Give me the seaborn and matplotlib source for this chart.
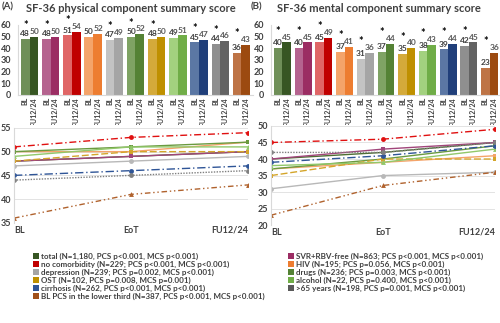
import matplotlib
matplotlib.use("Agg")
import matplotlib.pyplot as plt
from matplotlib.lines import Line2D
from matplotlib.patches import Rectangle
import seaborn as sns
import pandas as pd
import numpy as np

sns.set_style("white")
plt.rcParams['font.family'] = ['Lato', 'DejaVu Sans']

groups = ["total", "SVR+RBV-free", "no comorbidity", "HIV", "depression", "drugs",
          "OST", "alcohol", "cirrhosis", ">65 years", "BL PCS in the lower third"]
pcs_bl = [48, 48, 51, 50, 47, 50, 48, 49, 45, 44, 36]
pcs_fu = [50, 50, 54, 52, 49, 52, 50, 51, 47, 46, 43]
mcs_bl = [40, 40, 45, 37, 31, 37, 35, 38, 39, 42, 23]
mcs_fu = [45, 45, 49, 41, 36, 44, 40, 43, 44, 45, 36]
pcs_sig = [1, 1, 1, 0, 1, 1, 1, 0, 1, 1, 1]
mcs_sig = [1, 1, 1, 1, 1, 1, 1, 1, 1, 1, 1]

timepoints = ["BL", "EoT", "FU12/24"]
pcs_lines = {
    "total": [48, 49, 50],
    "SVR+RBV-free": [48, 49, 50],
    "no comorbidity": [51, 53, 54],
    "HIV": [50, 50, 52],
    "depression": [47, 48, 49],
    "drugs": [50, 51, 52],
    "OST": [48, 50, 50],
    "alcohol": [49, 51, 51],
    "cirrhosis": [45, 46, 47],
    ">65 years": [44, 45, 46],
    "BL PCS in the lower third": [36, 41, 43],
}
mcs_lines = {
    "total": [40, 42, 45],
    "SVR+RBV-free": [40, 43, 45],
    "no comorbidity": [45, 46, 49],
    "HIV": [37, 39, 41],
    "depression": [31, 35, 36],
    "drugs": [37, 40, 44],
    "OST": [35, 40, 40],
    "alcohol": [38, 39, 43],
    "cirrhosis": [39, 41, 44],
    ">65 years": [42, 42, 45],
    "BL PCS in the lower third": [23, 32, 36],
}

legend_left = [
    ("total", "total (N=1,180, PCS p<0.001, MCS p<0.001)"),
    ("no comorbidity", "no comorbidity (N=229; PCS p<0.001, MCS p<0.001)"),
    ("depression", "depression (N=239; PCS p=0.002, MCS p<0.001)"),
    ("OST", "OST (N=102, PCS p=0.008, MCS p=0.001)"),
    ("cirrhosis", "cirrhosis (N=262, PCS p<0.001, MCS p<0.001)"),
    ("BL PCS in the lower third", "BL PCS in the lower third (N=387, PCS p<0.001, MCS p<0.001)"),
]
legend_right = [
    ("SVR+RBV-free", "SVR+RBV-free (N=863; PCS p<0.001, MCS p<0.001)"),
    ("HIV", "HIV (N=195; PCS p=0.056, MCS p<0.001)"),
    ("drugs", "drugs (N=236; PCS p=0.003, MCS p<0.001)"),
    ("alcohol", "alcohol (N=22, PCS p=0.400, MCS p<0.001)"),
    (">65 years", ">65 years (N=198, PCS p=0.001, MCS p<0.001)"),
]

# styles
bar_light = ["#6f8f58", "#b5638f", "#e06666", "#f4a46a", "#c3c3c3", "#7fa364",
             "#d4aa3a", "#a3d17f", "#5b77a4", "#8f8f8f", "#be7446"]
bar_dark = ["#375623", "#9b2d63", "#c00000", "#ed7d31", "#a5a5a5", "#548235",
            "#bf9000", "#70ad47", "#203f7a", "#636363", "#9c4a10"]
line_style = {
    "total": ("#4e6e32", "-", "s"),
    "SVR+RBV-free": ("#a0457a", "-", "s"),
    "no comorbidity": ("#e01010", (0, (5, 2, 1, 2)), "o"),
    "HIV": ("#f4a46a", "-", "s"),
    "depression": ("#b8b8b8", "-", "o"),
    "drugs": ("#6a9a40", "-", "s"),
    "OST": ("#d4a52a", (0, (5, 2)), "s"),
    "alcohol": ("#92c86a", "-", "^"),
    "cirrhosis": ("#2f5597", (0, (6, 2, 1, 2)), "o"),
    ">65 years": ("#7f7f7f", (0, (1, 1)), "o"),
    "BL PCS in the lower third": ("#b0622d", (0, (4, 2, 1, 2, 1, 2)), "^"),
}
legend_color = {
    "total": "#375623", "no comorbidity": "#c00000", "depression": "#a5a5a5",
    "OST": "#bf9000", "cirrhosis": "#2f5597", "BL PCS in the lower third": "#a0501a",
    "SVR+RBV-free": "#9b2d63", "HIV": "#ed7d31", "drugs": "#548235",
    "alcohol": "#70ad47", ">65 years": "#595959",
}

txt = "#404040"
fig = plt.figure(figsize=(5.0, 3.23), dpi=100)


def bar_panel(rect, bl, fu, sig, letter, letter_x, title, title_x, ypad):
    ax = fig.add_axes(rect)
    df = pd.DataFrame({"group": groups * 2, "time": ["BL"] * len(groups) + ["FU12/24"] * len(groups),
                       "value": bl + fu})
    sns.barplot(data=df, x="group", y="value", hue="time", order=groups,
                hue_order=["BL", "FU12/24"], dodge=True, width=0.82, gap=0,
                legend=False, ax=ax, saturation=1)
    n = len(groups)
    for i, p in enumerate(ax.patches[:2 * n]):
        g = i % n
        p.set_facecolor(bar_light[g] if i < n else bar_dark[g])
        p.set_edgecolor("none")
    ax.set_ylim(0, 60)
    ax.set_xlim(-0.55, n - 0.45)
    ax.set_yticks(range(0, 61, 10))
    ax.set_yticklabels([str(v) for v in range(0, 61, 10)], fontsize=6.5, fontweight="bold", color=txt)
    pos, labs = [], []
    for i in range(n):
        pos += [i - 0.205, i + 0.205]
        labs += ["BL", "FU12/24"]
    ax.set_xticks(pos)
    ax.set_xticklabels(labs, rotation=90, fontsize=5.0, fontweight="bold", color=txt)
    ax.tick_params(axis="x", length=0, pad=1.5)
    ax.tick_params(axis="y", length=0, pad=ypad)
    ax.set_xlabel("")
    ax.set_ylabel("")
    for s in ["top", "right"]:
        ax.spines[s].set_visible(False)
    for s in ["left", "bottom"]:
        ax.spines[s].set_color("#d9d9d9")
        ax.spines[s].set_linewidth(0.8)
    for i in range(n):
        ax.text(i - 0.205, bl[i] + 1.5, str(bl[i]), ha="center", va="bottom", fontsize=6,
                fontweight="bold", color=txt, clip_on=False)
        ax.text(i + 0.23, fu[i] + 1.5, str(fu[i]), ha="center", va="bottom", fontsize=6,
                fontweight="bold", color="#595959", clip_on=False)
        if sig[i]:
            ax.text(i - 0.205, max(bl[i], fu[i]) + 6.5, "*", ha="center", va="baseline",
                    fontsize=8, fontweight="bold", color="black", clip_on=False)
    fig.text(letter_x, 0.978, letter, ha="left", va="center", fontsize=7,
             fontweight="bold", color=txt)
    fig.text(title_x, 0.975, title, ha="center", va="center", fontsize=8,
             fontweight="bold", color=txt)
    return ax


bar_panel([0.036, 0.706, 0.47, 0.217], pcs_bl, pcs_fu, pcs_sig, "(A)", 0.004,
          "SF-36 physical component summary score", 0.262, 5)
bar_panel([0.542, 0.706, 0.46, 0.217], mcs_bl, mcs_fu, mcs_sig, "(B)", 0.502,
          "SF-36 mental component summary score", 0.757, 5)

# white band that clips the rotated bar labels, as in the original layout
fig.patches.append(Rectangle((0, 0.57), 1, 1 - 125 / 323 - 0.57, transform=fig.transFigure,
                             facecolor="white", edgecolor="none", zorder=2))


def line_panel(rect, data, ylim, step):
    ax = fig.add_axes(rect)
    ax.set_facecolor("white")
    ax.set_zorder(5)
    x = [0, 1, 2]
    for g in groups:
        c, ls, m = line_style[g]
        sns.lineplot(x=x, y=data[g], color=c, linestyle=ls, marker=m, markersize=3.5,
                     markeredgewidth=0, linewidth=1.0, ax=ax, legend=False)
    ax.set_xlim(0, 2)
    ax.set_ylim(*ylim)
    ax.set_yticks(np.arange(ylim[0], ylim[1] + 1, step))
    ax.set_yticklabels([str(int(v)) for v in np.arange(ylim[0], ylim[1] + 1, step)],
                       fontsize=6.5, fontweight="bold", color=txt)
    ax.set_xticks(x)
    xl = ax.set_xticklabels(timepoints, fontsize=6.5, fontweight="bold", color=txt)
    xl[0].set_ha("left")
    xl[2].set_ha("right")
    ax.tick_params(length=0, pad=2)
    ax.grid(axis="y", color="#e3e3e3", linewidth=0.7)
    for s in ["top", "right", "bottom"]:
        ax.spines[s].set_visible(False)
    ax.spines["left"].set_color("#d9d9d9")
    ax.spines["left"].set_linewidth(0.8)
    return ax


line_panel([0.028, 0.31, 0.468, 0.294], pcs_lines, (35, 55), 5)
line_panel([0.542, 0.303, 0.448, 0.307], mcs_lines, (20, 50), 5)


def make_legend(items, anchor):
    handles = [Line2D([], [], marker="s", linestyle="", markersize=4, color=legend_color[k],
                      markeredgewidth=0) for k, _ in items]
    labels = [lab for _, lab in items]
    leg = fig.legend(handles, labels, loc="upper left", bbox_to_anchor=anchor, frameon=False,
                     fontsize=5.8, handlelength=0.6, handletextpad=0.3, labelspacing=0.1,
                     borderpad=0, borderaxespad=0)
    for t in leg.get_texts():
        t.set_color(txt)
        t.set_fontweight("bold")
    return leg


make_legend(legend_left, (0.068, 0.218))
make_legend(legend_right, (0.578, 0.218))

fig.savefig("out.png", dpi=100)
